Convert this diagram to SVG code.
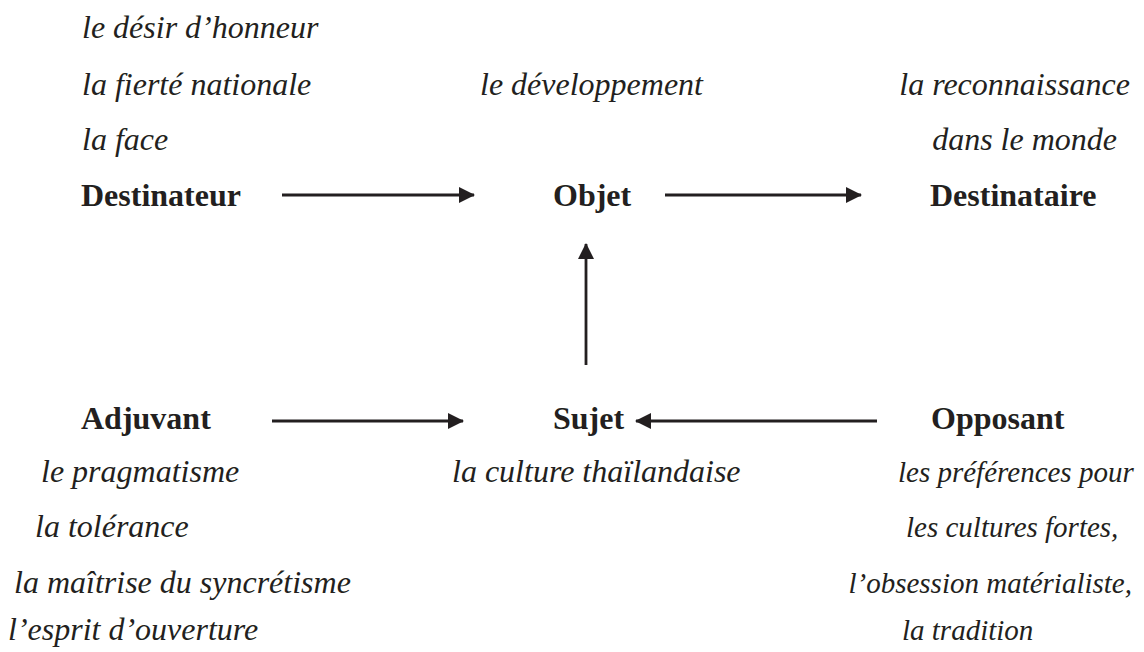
<svg xmlns="http://www.w3.org/2000/svg" width="1144" height="652" viewBox="0 0 1144 652">
<style>
text{font-family:'Liberation Serif','Times New Roman',serif;font-size:32px;fill:#231f20}
.i{font-style:italic}
.b{font-weight:bold}
.s{font-size:29px}
.c{stroke:#231f20;stroke-width:2.8;fill:none}
</style>
<defs>
<marker id="ah" markerWidth="16" markerHeight="16" refX="15" refY="8" orient="auto" markerUnits="userSpaceOnUse">
<path d="M0,0 L16,8 L0,16 Z" fill="#231f20"/>
</marker>
</defs>
<rect width="1144" height="652" fill="#fff"/>
<g id="destinateur">
<text class="i" x="82" y="38">le désir d’honneur</text>
<text class="i" x="82" y="95">la fierté nationale</text>
<text class="i" x="82" y="150">la face</text>
<text class="b" x="81" y="206">Destinateur</text>
</g>
<g id="objet">
<text class="i" x="480" y="95">le développement</text>
<text class="b" x="553" y="206">Objet</text>
</g>
<g id="destinataire">
<text class="i" x="1130" y="95" text-anchor="end">la reconnaissance</text>
<text class="i" x="1117" y="150" text-anchor="end">dans le monde</text>
<text class="b" x="930" y="206">Destinataire</text>
</g>
<g id="adjuvant">
<text class="b" x="81" y="429">Adjuvant</text>
<text class="i" x="41" y="482">le pragmatisme</text>
<text class="i" x="35" y="537">la tolérance</text>
<text class="i" x="14" y="593">la maîtrise du syncrétisme</text>
<text class="i" x="8" y="640">l’esprit d’ouverture</text>
</g>
<g id="sujet">
<text class="b" x="553" y="429">Sujet</text>
<text class="i" x="452" y="482">la culture thaïlandaise</text>
</g>
<g id="opposant">
<text class="b" x="931" y="429">Opposant</text>
<text class="i s" x="898" y="482">les préférences pour</text>
<text class="i s" x="906" y="537">les cultures fortes,</text>
<text class="i s" x="1132" y="593" text-anchor="end">l’obsession matérialiste,</text>
<text class="i s" x="902" y="640">la tradition</text>
</g>
<g id="connectors">
<line class="c" x1="282" y1="195" x2="474" y2="195" marker-end="url(#ah)"/>
<line class="c" x1="665" y1="195" x2="861" y2="195" marker-end="url(#ah)"/>
<line class="c" x1="586" y1="365" x2="586" y2="244" marker-end="url(#ah)"/>
<line class="c" x1="272" y1="421" x2="463" y2="421" marker-end="url(#ah)"/>
<line class="c" x1="877" y1="421" x2="636" y2="421" marker-end="url(#ah)"/>
</g>
</svg>
